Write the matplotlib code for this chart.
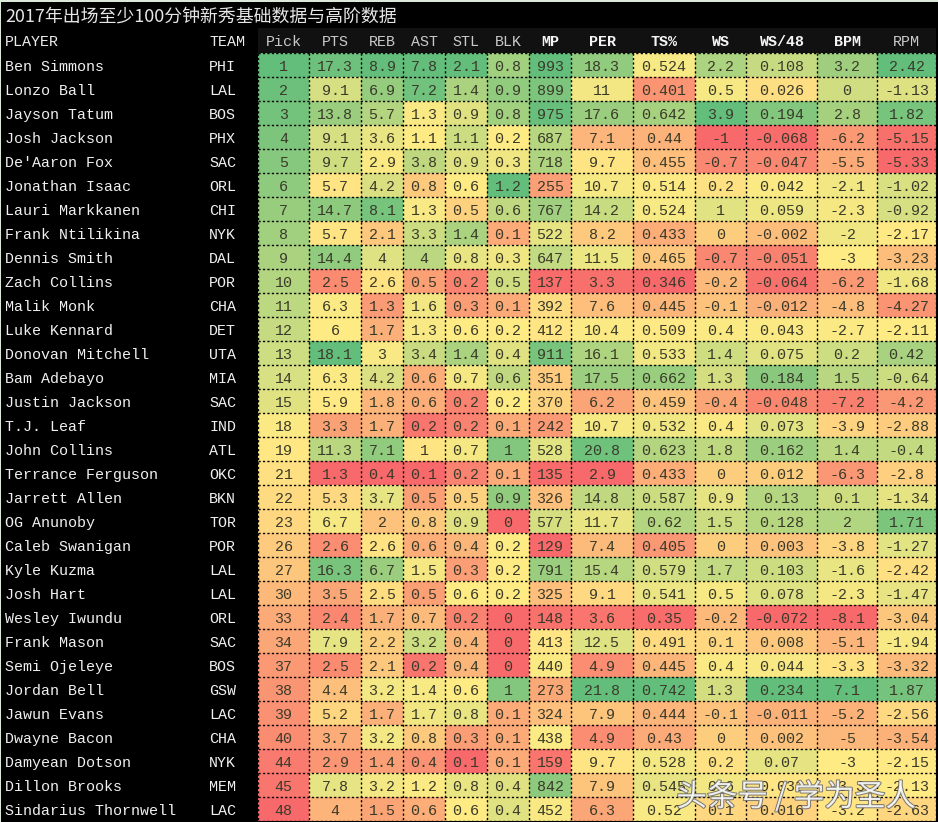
import numpy as np
import matplotlib
matplotlib.use("Agg")
import matplotlib.pyplot as plt
import matplotlib.patheffects as pe
from matplotlib.colors import LinearSegmentedColormap, TwoSlopeNorm

TITLE = "2017年出场至少100分钟新秀基础数据与高阶数据"
WATERMARK = "头条号 / 学为圣人"

players = ["Ben Simmons", "Lonzo Ball", "Jayson Tatum", "Josh Jackson", "De'Aaron Fox", "Jonathan Isaac",
           "Lauri Markkanen", "Frank Ntilikina", "Dennis Smith", "Zach Collins", "Malik Monk", "Luke Kennard",
           "Donovan Mitchell", "Bam Adebayo", "Justin Jackson", "T.J. Leaf", "John Collins", "Terrance Ferguson",
           "Jarrett Allen", "OG Anunoby", "Caleb Swanigan", "Kyle Kuzma", "Josh Hart", "Wesley Iwundu",
           "Frank Mason", "Semi Ojeleye", "Jordan Bell", "Jawun Evans", "Dwayne Bacon", "Damyean Dotson",
           "Dillon Brooks", "Sindarius Thornwell"]
teams = ["PHI", "LAL", "BOS", "PHX", "SAC", "ORL", "CHI", "NYK", "DAL", "POR", "CHA", "DET", "UTA", "MIA", "SAC", "IND",
         "ATL", "OKC", "BKN", "TOR", "POR", "LAL", "LAL", "ORL", "SAC", "BOS", "GSW", "LAC", "CHA", "NYK", "MEM", "LAC"]

pick = [1, 2, 3, 4, 5, 6, 7, 8, 9, 10, 11, 12, 13, 14, 15, 18, 19, 21, 22, 23, 26, 27, 30, 33, 34, 37, 38, 39, 40, 44, 45, 48]
pts = [17.3, 9.1, 13.8, 9.1, 9.7, 5.7, 14.7, 5.7, 14.4, 2.5, 6.3, 6, 18.1, 6.3, 5.9, 3.3, 11.3, 1.3, 5.3, 6.7, 2.6, 16.3, 3.5, 2.4, 7.9, 2.5, 4.4, 5.2, 3.7, 2.9, 7.8, 4]
reb = [8.9, 6.9, 5.7, 3.6, 2.9, 4.2, 8.1, 2.1, 4, 2.6, 1.3, 1.7, 3, 4.2, 1.8, 1.7, 7.1, 0.4, 3.7, 2, 2.6, 6.7, 2.5, 1.7, 2.2, 2.1, 3.2, 1.7, 3.2, 1.4, 3.2, 1.5]
ast = [7.8, 7.2, 1.3, 1.1, 3.8, 0.8, 1.3, 3.3, 4, 0.5, 1.6, 1.3, 3.4, 0.6, 0.6, 0.2, 1, 0.1, 0.5, 0.8, 0.6, 1.5, 0.5, 0.7, 3.2, 0.2, 1.4, 1.7, 0.8, 0.4, 1.2, 0.6]
stl = [2.1, 1.4, 0.9, 1.1, 0.9, 0.6, 0.5, 1.4, 0.8, 0.2, 0.3, 0.6, 1.4, 0.7, 0.2, 0.2, 0.7, 0.2, 0.5, 0.9, 0.4, 0.3, 0.6, 0.2, 0.4, 0.4, 0.6, 0.8, 0.3, 0.1, 0.8, 0.6]
blk = [0.8, 0.9, 0.8, 0.2, 0.3, 1.2, 0.6, 0.1, 0.3, 0.5, 0.1, 0.2, 0.4, 0.6, 0.2, 0.1, 1, 0.1, 0.9, 0, 0.2, 0.2, 0.2, 0, 0, 0, 1, 0.1, 0.1, 0.1, 0.4, 0.4]
mp = [993, 899, 975, 687, 718, 255, 767, 522, 647, 137, 392, 412, 911, 351, 370, 242, 528, 135, 326, 577, 129, 791, 325, 148, 413, 440, 273, 324, 438, 159, 842, 452]
per = [18.3, 11, 17.6, 7.1, 9.7, 10.7, 14.2, 8.2, 11.5, 3.3, 7.6, 10.4, 16.1, 17.5, 6.2, 10.7, 20.8, 2.9, 14.8, 11.7, 7.4, 15.4, 9.1, 3.6, 12.5, 4.9, 21.8, 7.9, 4.9, 9.7, 7.9, 6.3]
ts = [0.524, 0.401, 0.642, 0.44, 0.455, 0.514, 0.524, 0.433, 0.465, 0.346, 0.445, 0.509, 0.533, 0.662, 0.459, 0.532, 0.623, 0.433, 0.587, 0.62, 0.405, 0.579, 0.541, 0.35, 0.491, 0.445, 0.742, 0.444, 0.43, 0.528, 0.545, 0.52]
ws = [2.2, 0.5, 3.9, -1, -0.7, 0.2, 1, 0, -0.7, -0.2, -0.1, 0.4, 1.4, 1.3, -0.4, 0.4, 1.8, 0, 0.9, 1.5, 0, 1.7, 0.5, -0.2, 0.1, 0.4, 1.3, -0.1, 0, 0.2, 0.6, 0.1]
ws48 = [0.108, 0.026, 0.194, -0.068, -0.047, 0.042, 0.059, -0.002, -0.051, -0.064, -0.012, 0.043, 0.075, 0.184, -0.048, 0.073, 0.162, 0.012, 0.13, 0.128, 0.003, 0.103, 0.078, -0.072, 0.008, 0.044, 0.234, -0.011, 0.002, 0.07, 0.032, 0.016]
bpm = [3.2, 0, 2.8, -6.2, -5.5, -2.1, -2.3, -2, -3, -6.2, -4.8, -2.7, 0.2, 1.5, -7.2, -3.9, 1.4, -6.3, 0.1, 2, -3.8, -1.6, -2.3, -8.1, -5.1, -3.3, 7.1, -5.2, -5, -3, -3.3, -3.2]
rpm = [2.42, -1.13, 1.82, -5.15, -5.33, -1.02, -0.92, -2.17, -3.23, -1.68, -4.27, -2.11, 0.42, -0.64, -4.2, -2.88, -0.4, -2.8, -1.34, 1.71, -1.27, -2.42, -1.47, -3.04, -1.94, -3.32, 1.87, -2.56, -3.54, -2.15, -2.13, -2.63]

columns = ["Pick", "PTS", "REB", "AST", "STL", "BLK", "MP", "PER", "TS%", "WS", "WS/48", "BPM", "RPM"]
series = [pick, pts, reb, ast, stl, blk, mp, per, ts, ws, ws48, bpm, rpm]
bold_columns = {"MP", "PER", "TS%", "WS", "WS/48", "BPM"}

# Layout, in pixels
W, H = 938, 822
EDGES = [258, 309, 361, 403, 445, 487, 529, 571, 633, 695, 746, 817, 877, 936]
ROW0, ROW_H = 65, 24
TEXT_SHIFT = 2 / ROW_H
HEAD_TOP = 28
MONO = "Liberation Mono"
FS = 10.8

greens = LinearSegmentedColormap.from_list("rdylgn", ["#F8696B", "#FFEB84", "#63BE7B"])

def row_y(px):
    return (px - ROW0) / ROW_H

fig = plt.figure(figsize=(W / 100, H / 100), dpi=100, facecolor="#dbe9d8")
ax = fig.add_axes([1 / W, 0, (W - 1) / W, (H - 2) / H], facecolor="black")
ax.set_xlim(1, W)
ax.set_ylim(row_y(H), row_y(2))
ax.axis("off")
fig.patches.append(plt.Rectangle((1 / W, 0), 1, (H - 2) / H, transform=fig.transFigure, fc="black", ec="none", zorder=-1))

n = len(players)
y_edges = np.arange(n + 1) - 0.5

ax.fill_between([EDGES[0], EDGES[-1]], row_y(HEAD_TOP), -0.5, color="#111111", lw=0, zorder=1)

for j, (name, vals) in enumerate(zip(columns, series)):
    v = np.asarray(vals, dtype=float)
    norm = TwoSlopeNorm(vmin=v.min(), vcenter=np.median(v), vmax=v.max())
    cmap = greens.reversed() if name == "Pick" else greens
    ax.pcolormesh([EDGES[j], EDGES[j + 1]], y_edges, v[:, None], cmap=cmap, norm=norm,
                  shading="flat", edgecolors="none", zorder=2)
    cx = (EDGES[j] + EDGES[j + 1]) / 2
    bold = name in bold_columns
    ax.text(cx, row_y(42), name, ha="center", va="center", family=MONO, fontsize=FS,
            color="#f4f4f4" if bold else "#c9c9c9", fontweight="bold" if bold else "normal", zorder=5)
    for i, val in enumerate(vals):
        ax.text(cx, i + TEXT_SHIFT, f"{val:g}", ha="center", va="center", family=MONO, fontsize=FS,
                color="#3a3a2a", zorder=5)

dots = (0, (1.6, 1.6))
ax.hlines(y_edges, EDGES[0], EDGES[-1], colors="black", linewidth=1.0, linestyles=[dots], zorder=3)
ax.vlines(EDGES, -0.5, n - 0.5, colors="black", linewidth=1.0, linestyles=[dots], zorder=3)

ax.text(5, row_y(17), TITLE, ha="left", va="center", family=["Noto Sans CJK SC", "DejaVu Sans"], fontsize=12.9,
        color="#e6e6e6", zorder=5)
ax.text(5, row_y(42), "PLAYER", ha="left", va="center", family=MONO, fontsize=FS, color="#ececec", zorder=5)
ax.text(209, row_y(42), "TEAM", ha="left", va="center", family=MONO, fontsize=FS, color="#ececec", zorder=5)
for i, (p, t) in enumerate(zip(players, teams)):
    ax.text(5, i + TEXT_SHIFT, p, ha="left", va="center", family=MONO, fontsize=FS, color="#f0f0f0", zorder=5)
    ax.text(209, i + TEXT_SHIFT, t, ha="left", va="center", family=MONO, fontsize=FS, color="#f0f0f0", zorder=5)

ax.text(796, row_y(797), WATERMARK, ha="center", va="center", family=["Noto Sans CJK SC", "DejaVu Sans"],
        fontsize=22, fontweight="light", color="white", alpha=0.85, zorder=8,
        path_effects=[pe.withStroke(linewidth=1.4, foreground="#666666")])

fig.savefig("out.png", dpi=100, facecolor=fig.get_facecolor())
